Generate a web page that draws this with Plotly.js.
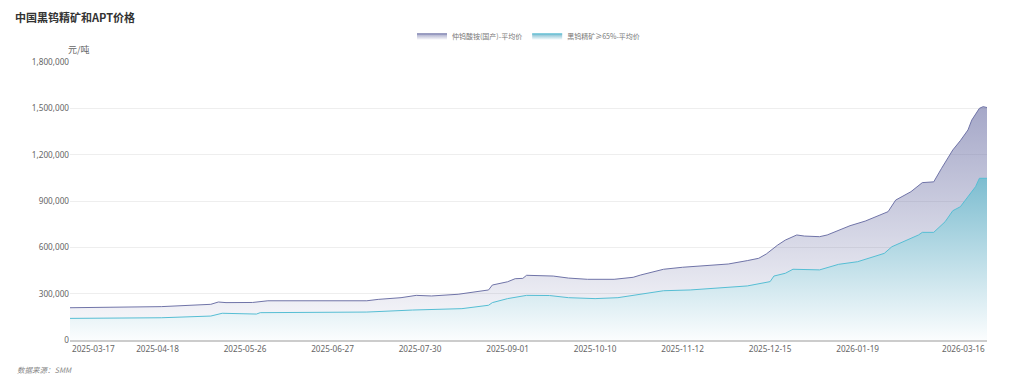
<!DOCTYPE html>
<html>
<head>
<meta charset="utf-8">
<script src="https://cdn.plot.ly/plotly-3.0.1.min.js"></script>
<style>
html,body{margin:0;padding:0;background:#fff;}
#chart{width:1024px;height:385px;}
</style>
</head>
<body>
<div id="chart"></div>
<script>
// Trading-day number counted from 2025-03-17 (day 0) to 2026-03-16 (day 241)
const tickDays = [0, 23, 46, 69, 92, 115, 138, 161, 184, 207, 241];
const tickDates = ["2025-03-17","2025-04-18","2025-05-26","2025-06-27","2025-07-30","2025-09-01","2025-10-10","2025-11-12","2025-12-15","2026-01-19","2026-03-16"];

// 仲钨酸铵(国产)-平均价, 元/吨
const aptDays = [0,24,37,39,41,48,52,78,81,87,91,95,102,106,110,111,115,117,119,120,127,131,136,143,148,150,156,161,169,173,178,181,183,185,186,188,191,193,197,199,201,205,209,213,215,217,221,224,227,229,232,234,236,237,239,240,241];
const aptPrice = [209000,216000,231000,246000,242000,243000,254000,254000,263000,274000,289000,285000,296000,309000,324000,356000,377000,397000,399000,419000,414000,401000,393000,393000,406000,421000,458000,471000,484000,492000,514000,529000,557000,596000,615000,647000,680000,673000,669000,680000,701000,740000,770000,809000,831000,906000,960000,1019000,1024000,1109000,1230000,1291000,1360000,1424000,1500000,1511000,1505000];

// 黑钨精矿≥65%-平均价, 元/吨
const wolfDays = [0,24,37,40,49,50,78,90,103,110,111,115,120,126,131,138,144,149,154,156,163,170,178,184,185,188,190,197,202,207,210,214,216,220,223,224,227,230,232,234,236,238,239,241];
const wolfPrice = [140000,144000,155000,173000,168000,177000,181000,194000,203000,225000,242000,268000,289000,288000,274000,268000,274000,291000,311000,319000,324000,335000,350000,378000,414000,432000,458000,454000,490000,507000,529000,561000,604000,647000,680000,697000,697000,766000,837000,863000,928000,993000,1047000,1047000];

const seriesNames = ["仲钨酸铵(国产)-平均价", "黑钨精矿≥65%-平均价"];

const aptMax = Math.max(...aptPrice);
const wolfMax = Math.max(...wolfPrice);

const traces = [
  {
    type: "scatter", mode: "lines", name: seriesNames[0],
    x: aptDays, y: aptPrice,
    line: {color: "rgb(112,116,168)", width: 1},
    fill: "tozeroy",
    fillgradient: {type: "vertical", start: 0, stop: aptMax,
      colorscale: [[0, "rgba(110,114,166,0.02)"], [1, "rgba(110,114,166,0.62)"]]},
    hoverinfo: "skip"
  },
  {
    type: "scatter", mode: "lines", name: seriesNames[1],
    x: wolfDays, y: wolfPrice,
    line: {color: "rgb(86,190,212)", width: 1},
    fill: "tozeroy",
    fillgradient: {type: "vertical", start: 0, stop: wolfMax,
      colorscale: [[0, "rgb(251,253,254)"], [1, "rgb(125,189,208)"]]},
    hoverinfo: "skip"
  }
];

const font = "'Noto Sans CJK SC', 'Noto Sans', sans-serif";
const numFont = "'Noto Sans', 'Noto Sans CJK SC', sans-serif";

const layout = {
  width: 1024, height: 385,
  margin: {l: 70, r: 37, t: 62, b: 45},
  paper_bgcolor: "#fff", plot_bgcolor: "#fff",
  font: {family: font, color: "#666", size: 8},
  title: {
    text: "中国黑钨精矿和APT价格",
    x: 15/1024, xanchor: "left", xref: "container",
    y: 1 - 18/385, yanchor: "middle", yref: "container",
    font: {family: font, size: 11, color: "#333", weight: "bold"}
  },
  showlegend: true,
  legend: {
    orientation: "h", x: 0.5, xanchor: "center", y: 1.094, yanchor: "middle",
    font: {family: font, size: 7, color: "#777"},
    itemwidth: 30, traceorder: "normal", bgcolor: "rgba(0,0,0,0)"
  },
  xaxis: {
    type: "linear", range: [0, 241],
    tickvals: tickDays.slice(1, -1), ticktext: tickDates.slice(1, -1),
    ticks: "", showgrid: false, zeroline: false,
    showline: true, linecolor: "#ccc", linewidth: 2,
    tickfont: {family: numFont, size: 8.2, color: "#666"},
    fixedrange: true
  },
  yaxis: {
    range: [0, 1800000], tickvals: [0,300000,600000,900000,1200000,1500000,1800000],
    tickformat: ",d", ticks: "", showgrid: true, gridcolor: "#eee", gridwidth: 1,
    zeroline: false, showline: false,
    tickfont: {family: numFont, size: 8.2, color: "#666"},
    fixedrange: true
  },
  annotations: [
    {text: "元/吨", xref: "paper", yref: "paper", x: 0, y: (340-49)/278,
     xanchor: "left", yanchor: "middle", xshift: -4, showarrow: false,
     font: {family: font, size: 9, color: "#666"}},
    {text: tickDates[0], xref: "x", yref: "paper", x: tickDays[0], y: 0,
     xanchor: "left", yanchor: "top", yshift: -1, showarrow: false,
     font: {family: numFont, size: 8.2, color: "#666"}},
    {text: tickDates[tickDates.length-1], xref: "x", yref: "paper", x: tickDays[tickDays.length-1], y: 0,
     xanchor: "right", yanchor: "top", yshift: -1, showarrow: false,
     font: {family: numFont, size: 8.2, color: "#666"}},
    {text: "<i>数据来源：SMM</i>", xref: "paper", yref: "paper", x: -55/918, y: (340-369)/278,
     xanchor: "left", yanchor: "middle", showarrow: false,
     font: {family: font, size: 7.5, color: "#888"}}
  ]
};

Plotly.newPlot("chart", traces, layout, {displayModeBar: false, staticPlot: true});
</script>
</body>
</html>
